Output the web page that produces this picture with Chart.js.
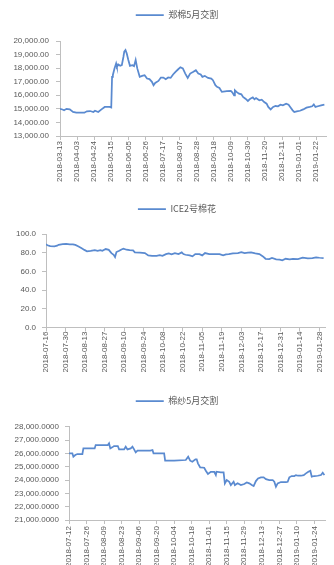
<!DOCTYPE html>
<html><head><meta charset="utf-8">
<script src="https://cdn.jsdelivr.net/npm/chart.js@4.4.0/dist/chart.umd.min.js"></script>
<style>
html,body{margin:0;padding:0;background:#fff;}
body{width:334px;height:565px;position:relative;overflow:hidden;}
canvas{position:absolute;left:0;}
</style></head><body>
<canvas id="c1" width="334" height="190" style="top:0;width:334px;height:190px"></canvas>
<canvas id="c2" width="334" height="190" style="top:190px;width:334px;height:190px"></canvas>
<canvas id="c3" width="334" height="185" style="top:380px;width:334px;height:185px"></canvas>
<script>
// ---- Chart 1: 郑棉5月交割 (days since 2018-03-13) ----
const zmLabel = '郑棉5月交割';
const zmDays = [0,3,5,8,12,16,20,30,33,37,41,43,47,51,55,61,63,64,65,67,69,70,72,74,76,78,79,80.5,82,84,86,89,91,93,95,98,101,104,107,110,113,115,117,121,124,127,130,133,136,139,142,145,148,151,154,157,160,164,167,170,173,175,178,182,186,188,191,193,196,199,205,210,212,214,215,217,220,223,225,228,231,234,237,239,241,245,248,251,254,256,259,262,265,268,271,274,278,281,283,286,288,291,295,299,303,307,310,312,314,317,321,325];
const zmValues = [15010,14950,14900,15000,14960,14770,14720,14720,14820,14840,14770,14860,14770,14960,15140,15140,15100,17360,17500,17980,18350,18100,18270,18170,18220,18840,19210,19330,19090,18600,18170,18220,18150,18600,17980,17360,17430,17480,17230,17190,16990,16740,16910,17060,17310,17310,17190,17310,17280,17530,17730,17900,18070,17980,17600,17280,17600,17730,17850,17600,17530,17360,17430,17280,17230,17110,16740,16620,16540,16250,16300,16320,16200,16000,16370,16250,16120,16070,15880,15750,15580,15750,15850,15700,15800,15630,15680,15500,15380,15140,14960,15140,15210,15190,15310,15260,15380,15310,15140,14890,14770,14820,14860,14960,15090,15140,15190,15330,15140,15190,15260,15310];
const zmXLabels = ['2018-03-13','2018-04-03','2018-04-24','2018-05-15','2018-06-05','2018-06-26','2018-07-17','2018-08-07','2018-08-28','2018-09-18','2018-10-09','2018-10-30','2018-11-20','2018-12-11','2019-01-01','2019-01-22'];

// ---- Chart 2: ICE2号棉花 (days since 2018-07-16) ----
const iceLabel = 'ICE2号棉花';
const iceDays = [0,1,3,6,8,9,12,14.5,17,19.3,21,23,25.3,27.5,29.4,32,35,37,39,40.4,42.8,45,46.9,48.5,49.5,50.5,52.5,54.1,55.5,57.7,60,62.4,63.7,67.3,70.9,73.3,76,79.3,81.5,83.5,86,88,90,92.4,95,97.3,98.5,100,103,105,107,110,112,114,117,121,124.4,127,129,131,134,137.6,140,142.4,144.8,147,150,153,155.5,157.4,160,162,165,167.5,169.4,171.8,174.7,177,180.6,184,187.7,191,193.6,196,199];
const iceValues = [89,88,87,86.8,87.5,88.4,89.2,89.5,89,89,88.4,87,85,83,81.5,82,82.8,82.1,82.8,82.1,83.9,83,79.6,77.8,75.4,80.7,82.1,83.5,84.3,83.2,82.8,82.5,80.3,80,79.6,77.1,76.7,76.7,77.4,76.7,78.5,79.2,78.2,79.6,78.5,80.3,78.5,77.8,77.1,76.1,78.5,78.5,77.1,79.6,78.5,78.5,78.5,77.1,78.2,78.5,79.2,79.6,80.7,79.6,80,80.3,79.2,78.5,76,73.5,73.2,74.3,72.8,72.5,71.8,73.5,72.8,73.5,73.2,74.6,73.9,74.3,75,74.6,74.3];
const iceXLabels = ['2018-07-16','2018-07-30','2018-08-13','2018-08-27','2018-09-10','2018-09-24','2018-10-08','2018-10-22','2018-11-05','2018-11-19','2018-12-03','2018-12-17','2018-12-31','2019-01-14','2019-01-28'];

// ---- Chart 3: 棉纱5月交割 (days since 2018-07-12) ----
const msLabel = '棉纱5月交割';
const msDays = [0,2.7,3.5,5,6.7,10.7,11.5,20.5,21.3,31,32,33,34.5,36,39,40,44,45.3,46.7,49.3,50.7,52,53.3,54.7,65,66.7,67.5,76,76.8,84,93.3,95.2,96.8,98.5,101,102,103,104.8,108,109.3,111,113.3,116,117.3,117.8,121.3,123.5,124.5,126,128,129.3,131.5,132.5,134.7,137.3,140,142,144,146,147.5,149.3,151,153.3,155.5,157.3,160,162.7,164,165.3,166.7,169.3,173.3,174.7,176,177.9,180,181.3,183,185.3,187.5,189.3,191.2,192.8,193.9,196,198.7,201.3,202.7,204];
const msValues = [26000,26000,25750,25870,25950,25950,26370,26370,26620,26620,26750,26370,26450,26550,26550,26300,26300,26500,26300,26370,26500,26300,26070,26200,26200,26250,26000,26000,25450,25450,25500,25750,25450,25370,25550,25550,25250,24950,24920,24700,24450,24620,24620,24370,24620,24570,24570,23750,24000,23870,23620,23870,23620,23750,23620,23700,23820,23750,23620,23550,23920,24120,24200,24200,24070,24000,24000,23870,23500,23750,23850,23850,23870,24200,24300,24300,24370,24320,24320,24370,24500,24620,24700,24250,24300,24320,24370,24550,24370];
const msXLabels = ['2018-07-12','2018-07-26','2018-08-09','2018-08-23','2018-09-06','2018-09-20','2018-10-04','2018-10-18','2018-11-01','2018-11-15','2018-11-29','2018-12-13','2018-12-27','2019-01-10','2019-01-24'];

const BLUE = '#5A8AD0';
const TXT = '#595959';
const AX = '#BFBFBF';
const LAT = "'Liberation Sans', Arial, sans-serif";
const CJK = "'Noto Sans CJK SC', 'Liberation Sans', sans-serif";

function dayDiff(a, b) {
  return Math.round((Date.parse(b + 'T00:00:00Z') - Date.parse(a + 'T00:00:00Z')) / 86400000);
}
function fmt(v, dec) {
  const s = v.toFixed(dec);
  const parts = s.split('.');
  return parts[0].replace(/\B(?=(\d{3})+(?!\d))/g, ',') + (parts[1] ? '.' + parts[1] : '');
}

// let the y-axis labels extend left of the (narrow) y scale box
const unclipY = { id: 'unclipY', afterLayout(chart) { chart.scales.y.left = 0; } };

function build(id, o) {
  const tickDays = o.xLabels.map(l => dayDiff(o.xLabels[0], l));
  const yTicks = [];
  for (let v = o.yMin; v <= o.yMax + 1e-9; v += o.yStep) yTicks.push(v);
  new Chart(document.getElementById(id), {
    type: 'line',
    data: {
      datasets: [{
        label: o.label,
        data: o.days.map((d, i) => ({ x: d, y: o.values[i] })),
        borderColor: BLUE,
        backgroundColor: BLUE,
        borderWidth: 1.75,
        pointRadius: 0,
        tension: 0,
        fill: false
      }]
    },
    plugins: [unclipY],
    options: {
      responsive: false,
      animation: false,
      devicePixelRatio: 1,
      layout: { padding: { top: o.padTop, left: o.padLeft, right: o.padRight, bottom: 0 } },
      plugins: {
        legend: {
          display: true, position: 'top', weight: 3000,
          labels: { boxWidth: 28, boxHeight: 0, padding: 10, color: TXT, font: { family: CJK, size: 9 } }
        },
        title: { display: true, text: '', padding: { top: 0, bottom: o.gap }, font: { size: 1, lineHeight: 1 } },
        tooltip: { enabled: false }
      },
      scales: {
        x: {
          type: 'linear', min: 0, max: o.xMax,
          afterBuildTicks: s => { s.ticks = tickDays.map(v => ({ value: v })); },
          afterFit: s => { s.height = o.xHeight; },
          grid: { drawOnChartArea: false, drawTicks: true, tickLength: 4, color: AX },
          border: { color: AX, width: 1 },
          ticks: {
            autoSkip: false, minRotation: 90, maxRotation: 90, padding: o.xPad,
            color: TXT, font: { family: LAT, size: 8 },
            callback: (v, i) => o.xLabels[i]
          }
        },
        y: {
          type: 'linear', min: o.yMin, max: o.yMax,
          afterBuildTicks: s => { s.ticks = yTicks.map(v => ({ value: v })); },
          afterFit: s => { s.width = o.yWidth; },
          grid: { drawOnChartArea: false, drawTicks: true, tickLength: 4, color: AX },
          border: { color: AX, width: 1 },
          ticks: { padding: o.yPad, color: TXT, font: { family: LAT, size: 8 }, callback: v => fmt(v, o.yDec) }
        }
      }
    }
  });
}

build('c1', { label: zmLabel, days: zmDays, values: zmValues, xLabels: zmXLabels, xMax: 327,
  yMin: 13000, yMax: 20000, yStep: 1000, yDec: 2,
  padTop: 0.5, gap: 10.5, padLeft: 28, padRight: 8, yWidth: 32, xHeight: 54, xPad: 1, yPad: 7 });
build('c2', { label: iceLabel, days: iceDays, values: iceValues, xLabels: iceXLabels, xMax: 200,
  yMin: 0, yMax: 100, yStep: 10, yDec: 1,
  padTop: 4.5, gap: 9.5, padLeft: 29, padRight: 9, yWidth: 17, xHeight: 52.5, xPad: 0, yPad: 6 });
build('c3', { label: msLabel, days: msDays, values: msValues, xLabels: msXLabels, xMax: 204.5,
  yMin: 21000, yMax: 28000, yStep: 1000, yDec: 4,
  padTop: 6.5, gap: 10.2, padLeft: 29, padRight: 9, yWidth: 40, xHeight: 45, xPad: 2, yPad: 6 });
</script>
</body></html>
